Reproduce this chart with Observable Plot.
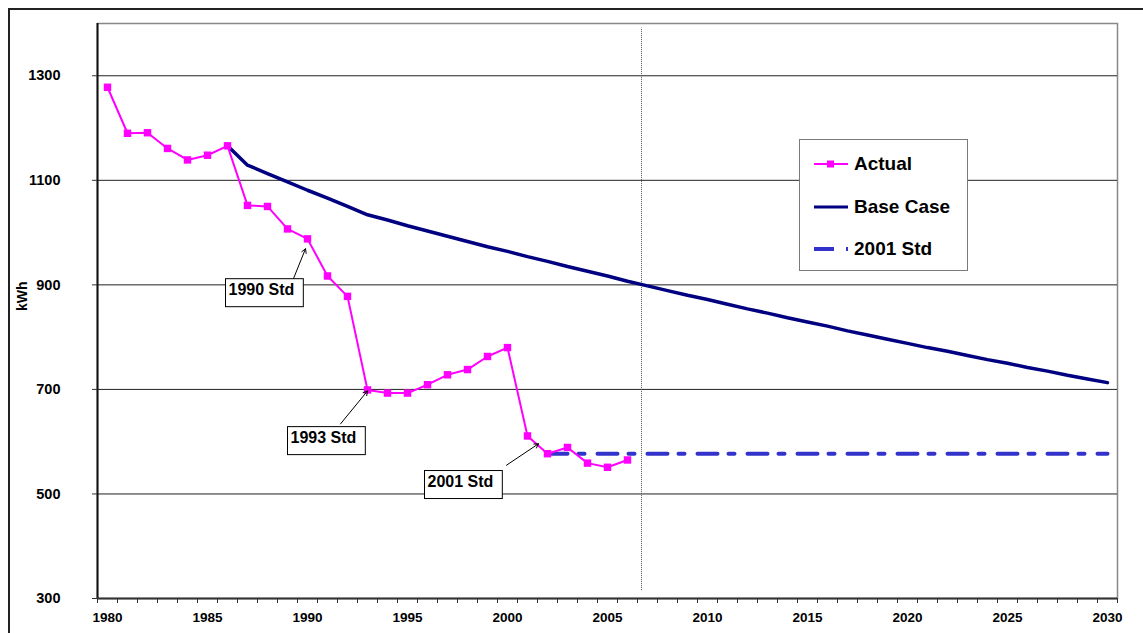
<!DOCTYPE html>
<html><head><meta charset="utf-8">
<script src="https://cdn.jsdelivr.net/npm/d3@7"></script>
<script src="https://cdn.jsdelivr.net/npm/@observablehq/plot@0.6"></script>
<style>
body{margin:0;background:#fff;font-family:"Liberation Sans",Arial,sans-serif;}
#wrap{position:relative;width:1143px;height:633px;overflow:hidden;background:#fff;}
#chart{position:absolute;left:0;top:0;}
#frame{position:absolute;left:8px;top:8px;width:1300px;height:800px;border-left:2px solid #222;border-top:2px solid #222;pointer-events:none;}
#legend{position:absolute;left:799px;top:139px;width:167px;height:130px;border:1.5px solid #7a7a7a;background:#fff;}
#legend .row{position:absolute;left:0;height:24px;display:flex;align-items:center;}
#legend svg{margin-left:13px;}
#legend span{margin-left:5px;font-weight:bold;font-size:19px;color:#000;white-space:nowrap;}
</style></head>
<body><div id="wrap"><div id="chart"></div><div id="legend"></div><div id="frame"></div></div>
<script>
// ---- data ----
const actualYears = [1980,1981,1982,1983,1984,1985,1986,1987,1988,1989,1990,1991,1992,1993,1994,1995,1996,1997,1998,1999,2000,2001,2002,2003,2004,2005,2006];
const actualValues = [1278,1190,1191,1161,1139,1148,1166,1052,1050,1007,988,917,878,699,693,693,709,728,738,763,780,611,577,589,559,551,565];
const baseYears = [1986,1987,1988,1989,1990,1991,1992,1993,1994,1995,1996,1997,1998,1999,2000,2001,2002,2003,2004,2005,2006,2007,2008,2009,2010,2011,2012,2013,2014,2015,2016,2017,2018,2019,2020,2021,2022,2023,2024,2025,2026,2027,2028,2029,2030];
const baseValues = [1166,1129,1113,1097,1081,1066,1050,1034,1024,1013,1003,993,983,973,964,954,945,935,926,917,907,898,889,880,872,863,854,846,837,829,821,812,804,796,788,780,773,765,757,750,742,735,727,720,713];
const stdYears = [2002,2030];
const stdValues = [577,577];
const seriesNames = ["Actual","Base Case","2001 Std"];
const xLabelYears = [1980,1985,1990,1995,2000,2005,2010,2015,2020,2025,2030];
const yTickValues = [300,500,700,900,1100,1300];
const gridValues = [500,700,900,1100,1300];
const yAxisLabel = "kWh";
const divisionYear = 2006.7;
// annotations
const annotLabels = ["1990 Std","1993 Std","2001 Std"];
const annotTextX = [1986.05,1989.15,1996.0];
const annotTextY = [891,608,524];
const arrowX1 = [1989.3,1991.65,1999.95];
const arrowY1 = [912,634,555];
const arrowX2 = [1989.9,1993.0,2001.55];
const arrowY2 = [969,697,596];

// ---- tables ----
const actual = actualYears.map((y,i)=>({year:y,value:actualValues[i]}));
const base = baseYears.map((y,i)=>({year:y,value:baseValues[i]}));
const std = stdYears.map((y,i)=>({year:y,value:stdValues[i]}));
const tickBoundaries = [];
for (let y = 1980; y <= 2031; y++) tickBoundaries.push(y - 0.5);
const annotIdx = annotLabels.map((_,i)=>i);

const MAGENTA = "#FF00FF", NAVY = "#000080", STDBLUE = "#3333CC";
const F = "Liberation Sans, Arial, sans-serif";

const plot = Plot.plot({
  width: 1143, height: 633,
  marginLeft: 97, marginRight: 26, marginTop: 23, marginBottom: 35,
  style: {fontFamily: F, fontWeight: "bold", background: "transparent", overflow: "visible"},
  x: {domain: [1979.5, 2030.5], axis: null, label: null},
  y: {domain: [300, 1400], axis: null, label: null},
  marks: [
    Plot.frame({stroke: "#888", strokeWidth: 1.5}),
    Plot.ruleY(gridValues, {stroke: "#222", strokeWidth: 1}),
    Plot.ruleX([divisionYear], {y1: 315, y2: 1391, stroke: "#555", strokeWidth: 1, strokeDasharray: "1,1"}),
    Plot.line(std, {x: "year", y: "value", stroke: STDBLUE, strokeWidth: 4, strokeDasharray: "20,11,6,13"}),
    Plot.line(base, {x: "year", y: "value", stroke: NAVY, strokeWidth: 3.5}),
    Plot.line(actual, {x: "year", y: "value", stroke: MAGENTA, strokeWidth: 2}),
    Plot.dot(actual, {x: "year", y: "value", symbol: "square", r: 4.2, fill: MAGENTA, stroke: "none"}),
    Plot.arrow(annotIdx, {x1: i=>arrowX1[i], y1: i=>arrowY1[i], x2: i=>arrowX2[i], y2: i=>arrowY2[i], stroke: "#000", strokeWidth: 1, headLength: 7}),
    Plot.text(annotIdx, {x: i=>annotTextX[i], y: i=>annotTextY[i], text: i=>annotLabels[i], textAnchor: "start", fontSize: 16, fontWeight: "bold", fill: "#000"}),
    Plot.ruleX([1979.5], {y1: 300, y2: 1400, stroke: "#111", strokeWidth: 2}),
    Plot.ruleY([300], {stroke: "#333", strokeWidth: 2}),
    Plot.axisY({ticks: yTickValues, label: null, tickSize: 5, tickPadding: 32, fontSize: 14.5, fontWeight: "bold", tickFormat: d => String(d), stroke: "#333", color: "#000"}),
    Plot.axisX({ticks: tickBoundaries, label: null, tickSize: 5, tickFormat: () => "", stroke: "#333"}),
    Plot.axisX({ticks: xLabelYears, label: null, tickSize: 0, tickPadding: 14, fontSize: 13.5, fontWeight: "bold", tickFormat: d => String(d), color: "#000"}),
    Plot.text([yAxisLabel], {frameAnchor: "left", dx: -75, rotate: -90, fontSize: 14, fontWeight: "bold", fill: "#000"})
  ]
});
document.getElementById("chart").append(plot);

// boxes behind annotation texts
Array.from(plot.querySelectorAll("text")).filter(t => annotLabels.includes(t.textContent)).forEach(t => {
  const b = t.getBBox();
  const r = document.createElementNS("http://www.w3.org/2000/svg","rect");
  r.setAttribute("x", b.x - 3);
  r.setAttribute("y", b.y - 2);
  r.setAttribute("width", b.width + 12);
  r.setAttribute("height", b.height + 11);
  r.setAttribute("fill", "#fff");
  r.setAttribute("stroke", "#000");
  r.setAttribute("stroke-width", "1");
  const tr = t.getAttribute("transform");
  if (tr) r.setAttribute("transform", tr);
  t.parentNode.insertBefore(r, t);
});

// legend
const legend = document.getElementById("legend");
const rowTops = [12, 55, 97];
const swatches = [
  '<svg width="36" height="12"><line x1="1" y1="6" x2="35" y2="6" stroke="'+MAGENTA+'" stroke-width="2"/><rect x="14" y="2.5" width="7" height="7" fill="'+MAGENTA+'"/></svg>',
  '<svg width="36" height="12"><line x1="1" y1="6" x2="35" y2="6" stroke="'+NAVY+'" stroke-width="3"/></svg>',
  '<svg width="36" height="12"><line x1="1" y1="6" x2="35" y2="6" stroke="'+STDBLUE+'" stroke-width="4" stroke-dasharray="20,12,2,20"/></svg>'
];
seriesNames.forEach((name,i)=>{
  const row = document.createElement("div");
  row.className = "row";
  row.style.top = rowTops[i] + "px";
  row.innerHTML = swatches[i];
  const s = document.createElement("span");
  s.textContent = name;
  row.append(s);
  legend.append(row);
});
</script>
</body></html>
